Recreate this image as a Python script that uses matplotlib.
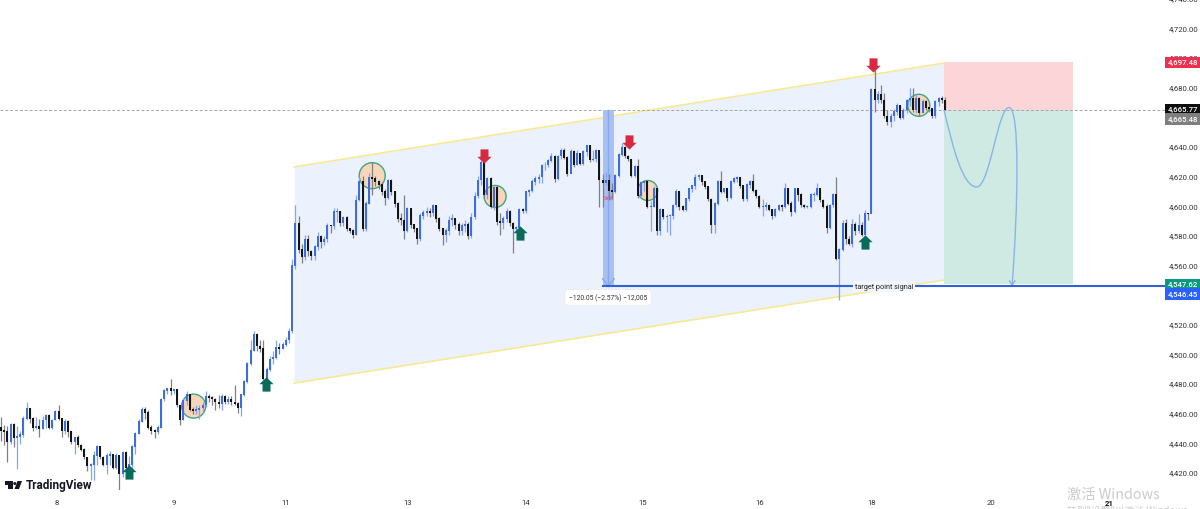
import matplotlib
matplotlib.use("Agg")
import matplotlib.pyplot as plt
from matplotlib.patches import Polygon, Rectangle, PathPatch
from matplotlib.path import Path
from matplotlib.transforms import ScaledTranslation

plt.rcParams['font.family'] = ['Roboto', 'DejaVu Sans']

# candle data, open of a bar is the close before it
first_open = 4451
closes = [
    4449, 4448, 4441, 4453, 4444, 4445, 4446, 4457, 4464, 4457,
    4451, 4452, 4450, 4456, 4459, 4451, 4456, 4462, 4457, 4449,
    4455, 4448, 4441, 4444, 4439, 4436, 4431, 4425, 4426, 4432,
    4438, 4431, 4426, 4432, 4433, 4424, 4432, 4420, 4434, 4424,
    4426, 4438, 4447, 4455, 4463, 4461, 4451, 4449, 4448, 4451,
    4470, 4476, 4477, 4476, 4476.5, 4466, 4456, 4469, 4473, 4463,
    4462, 4463, 4464, 4466, 4472, 4471, 4470, 4468, 4467, 4472,
    4468, 4470, 4468, 4467, 4464, 4473, 4482, 4494, 4503, 4514,
    4506, 4504, 4484, 4490, 4497, 4498, 4505, 4504, 4507, 4510,
    4516, 4560, 4589, 4571, 4566, 4578, 4570, 4567, 4573, 4580,
    4576, 4578, 4587.5, 4587, 4596.5, 4597, 4589, 4593, 4585, 4584,
    4581, 4604.5, 4617, 4585, 4602, 4620, 4619, 4617, 4615, 4610,
    4606, 4618, 4610, 4602, 4592, 4591, 4584, 4599, 4588, 4585,
    4578, 4594, 4596, 4597, 4595.5, 4601, 4592, 4585, 4581, 4584,
    4591, 4592, 4588, 4584, 4587, 4588, 4580, 4593, 4607, 4618,
    4630, 4608, 4619, 4600, 4613, 4590, 4589, 4592, 4597, 4589,
    4585, 4586, 4598, 4597, 4610, 4611, 4617, 4619, 4620, 4628,
    4628, 4631, 4634, 4619, 4634, 4638, 4633, 4622, 4637, 4628,
    4636, 4629, 4637, 4641, 4631.5, 4632, 4638, 4618, 4616, 4618,
    4611, 4610, 4621, 4635, 4640, 4634, 4632, 4621, 4627, 4607,
    4616, 4617, 4600, 4600, 4612, 4584, 4598, 4593, 4593.5, 4594,
    4601, 4610, 4600, 4598, 4605.6, 4612, 4614, 4620, 4621, 4617,
    4613.5, 4605, 4588, 4602, 4617, 4610, 4612, 4606, 4617, 4619,
    4620, 4614, 4605, 4615, 4617, 4611, 4607, 4600, 4600, 4601,
    4598, 4594, 4598, 4601, 4600, 4612, 4602, 4596.6, 4612, 4608,
    4601, 4600, 4600, 4608, 4608, 4612, 4604.5, 4600, 4586, 4601,
    4608, 4565, 4571, 4589, 4578, 4575, 4588, 4584, 4587, 4581,
    4595.5, 4595, 4679, 4672, 4676, 4672, 4661, 4657, 4661, 4664,
    4668, 4660, 4665, 4672, 4673, 4665, 4673, 4663, 4671, 4667,
    4666, 4661, 4671, 4673, 4672, 4665.5,
]
highs = [
    4458, 4453, 4452, 4454, 4454, 4452, 4449, 4459, 4468, 4464,
    4458, 4458, 4457, 4459, 4460, 4460, 4457, 4463, 4466, 4457,
    4457, 4456, 4449, 4445, 4446, 4440, 4437, 4431, 4427, 4435,
    4439, 4437, 4432, 4434, 4435, 4433, 4434, 4432, 4435, 4435,
    4432, 4439, 4448, 4457, 4465, 4465, 4463, 4453, 4450, 4453,
    4471, 4477, 4478, 4483.5, 4477, 4477, 4466, 4471, 4476, 4473,
    4465, 4466, 4466, 4468, 4476, 4474, 4472, 4471, 4473, 4474,
    4473, 4472, 4472, 4480, 4468, 4474, 4483, 4495, 4510, 4516,
    4515, 4510, 4510, 4492, 4499, 4503, 4510, 4508, 4509, 4512,
    4518, 4565, 4601, 4594, 4575, 4581, 4581, 4571, 4574, 4583,
    4581, 4580, 4589, 4588, 4599, 4599, 4597, 4594, 4594, 4586,
    4585, 4608, 4620, 4621, 4604, 4623, 4630, 4621, 4618, 4617,
    4612, 4619, 4619, 4611, 4603, 4596, 4608, 4600, 4598, 4588,
    4585, 4596, 4598, 4600, 4599, 4602, 4601, 4593, 4586, 4586,
    4594, 4595, 4592, 4590, 4589, 4591, 4590, 4596, 4610, 4621,
    4634, 4631, 4620, 4620, 4614, 4615, 4596, 4594, 4599, 4598,
    4590, 4587, 4599, 4599, 4611, 4612, 4619, 4621, 4622, 4629,
    4630, 4632, 4636, 4635, 4635, 4640, 4640, 4634, 4639, 4638,
    4638, 4633, 4638, 4642, 4642, 4638, 4639, 4635, 4622, 4623.6,
    4622, 4616, 4622, 4636, 4643, 4641, 4635, 4632, 4628, 4632,
    4617, 4618, 4618, 4604, 4614, 4611, 4599, 4596, 4595, 4595,
    4602, 4612, 4610, 4601, 4606, 4613, 4615, 4622, 4622, 4621,
    4617, 4614, 4606, 4603, 4618, 4624, 4613, 4612, 4618, 4620,
    4621, 4620, 4615, 4616, 4618, 4622, 4612, 4608, 4605, 4603,
    4602, 4598, 4599, 4602, 4602, 4616, 4613, 4604, 4613, 4612,
    4609, 4602, 4601, 4609, 4610, 4616, 4612, 4605, 4602, 4602,
    4609, 4620, 4572, 4591, 4592, 4580, 4592, 4590, 4595, 4590,
    4598, 4596, 4680, 4692, 4678, 4682, 4677, 4665, 4663, 4666,
    4670, 4668, 4667, 4673, 4680, 4680, 4676, 4674, 4673, 4672,
    4670, 4667, 4672, 4674, 4675, 4674,
]
lows = [
    4442, 4439, 4428, 4440, 4438, 4423, 4440, 4445, 4456, 4454,
    4449, 4450, 4445, 4450, 4451, 4450, 4450, 4456, 4456, 4445,
    4447, 4445, 4440, 4433, 4438, 4435, 4430, 4422, 4415.5, 4415.5,
    4426, 4430, 4425, 4420, 4426, 4423, 4423, 4408, 4418, 4423,
    4423, 4424, 4433, 4447, 4455, 4457, 4450, 4447, 4444, 4447,
    4451, 4469, 4474, 4473, 4474, 4465, 4453, 4456, 4466, 4462,
    4460, 4460, 4457, 4461, 4465, 4468, 4466, 4463, 4464, 4463,
    4467, 4467, 4466, 4466, 4461, 4459, 4472, 4481, 4493, 4503,
    4503, 4502, 4483, 4483, 4489, 4494, 4497, 4501, 4504, 4506,
    4508, 4515, 4558, 4569, 4562, 4564, 4567, 4564, 4564, 4571,
    4572, 4574, 4576, 4582, 4585, 4590, 4587, 4587, 4584, 4582,
    4579, 4581, 4604, 4584, 4584, 4602, 4608, 4614, 4612, 4608,
    4601, 4605, 4608, 4600, 4590, 4588, 4578, 4583, 4586, 4583,
    4575, 4577, 4592, 4594, 4593, 4594, 4590, 4584, 4574, 4576,
    4581, 4587, 4585, 4581, 4581, 4583, 4578, 4579, 4592, 4606,
    4615, 4606, 4605, 4599, 4598, 4588, 4581, 4585, 4590, 4587,
    4569, 4583, 4585, 4596, 4596, 4607, 4610, 4615, 4616, 4616,
    4625, 4627, 4630, 4617, 4618, 4632, 4632, 4621, 4628, 4627,
    4628, 4628, 4628, 4634, 4630, 4631, 4630, 4600, 4600, 4615,
    4604.5, 4605, 4609, 4620, 4634, 4633, 4631, 4620, 4620, 4606,
    4607, 4611, 4599, 4584, 4600, 4581, 4581, 4592, 4583, 4581,
    4592, 4600, 4598, 4597, 4597, 4604, 4610, 4612, 4618, 4615,
    4612, 4604, 4582, 4582, 4601, 4609, 4609, 4604, 4605, 4616,
    4617, 4613, 4604, 4604, 4613, 4610, 4606, 4599, 4594, 4598,
    4597, 4591.5, 4593, 4597, 4597, 4599, 4601, 4594, 4596, 4604,
    4600, 4599, 4599, 4599, 4604, 4607, 4603, 4599, 4582, 4585,
    4600, 4564, 4537, 4570, 4575, 4574, 4573, 4581, 4582, 4580,
    4580, 4591, 4597, 4664, 4670, 4670, 4660, 4655, 4654, 4658,
    4662, 4659, 4659, 4663, 4668, 4664, 4663, 4661, 4664, 4665,
    4664, 4660, 4660, 4668, 4670, 4665,
]
opens = [first_open] + closes[:-1]
bars = list(range(len(closes)))

price_ticks = [4420, 4440, 4460, 4480, 4500, 4520, 4560, 4580, 4600,
               4620, 4640, 4660, 4680, 4700, 4720, 4740]
day_bars = [17.5, 54, 89, 127.2, 164, 200.6, 237.2, 272, 309.4, 346.25]
day_labels = ['8', '9', '11', '13', '14', '15', '16', '18', '20', '21']

# drawings on the chart, in bars and prices
channel_bars = [91.6, 294.7]
channel_top = [4626.9, 4697]
channel_bottom = [4481, 4550.6]
box_bars = [294.7, 335]
stop_price = 4697.48
entry_price = 4665.3
target_price = 4547.62
line_price = 4546.45
line_start = 188
measure_bars = [188, 191.6]
measure_top = 4665.3
circle_bars = [60.2, 116, 154.4, 202.1, 286.8]
circle_prices = [4465.5, 4621, 4607, 4611, 4668.5]
circle_sizes = [12, 13, 11, 10, 11]
up_bars = [40, 82.7, 162.2, 270]
up_prices = [4421, 4480.5, 4582.5, 4576]
down_bars = [151, 196.2, 272.4]
down_prices = [4634.5, 4644, 4696]
curve_bars = [294.7, 297.5, 300.5, 304.9, 309, 311.5, 315, 318.5, 317.8, 316]
curve_prices = [4665.3, 4640, 4613.4, 4613.4, 4613.4, 4667, 4667, 4667, 4600, 4547.6]

BLUE = '#3d6de0'
BLACK = '#141414'

fig = plt.figure(figsize=(12, 5.1), dpi=100)
ax = fig.add_axes([0, 19 / 510, 1165 / 1200, 492 / 510])
ax.set_xlim(-0.3125, 363.75)
ax.set_ylim(4408.9, 4740.9)
for s in ax.spines.values():
    s.set_visible(False)

# channel and position box go under the candles
ax.fill_between(channel_bars, channel_bottom, channel_top, color='#ebf1fd', lw=0, zorder=1)
ax.plot(channel_bars, channel_top, color='#f7e98e', lw=1.1, zorder=2)
ax.plot(channel_bars, channel_bottom, color='#f7e98e', lw=1.1, zorder=2)
ax.add_patch(Rectangle((box_bars[0], entry_price), box_bars[1] - box_bars[0],
                       stop_price - entry_price, color='#fbd5d8', lw=0, zorder=1.5))
ax.add_patch(Rectangle((box_bars[0], target_price), box_bars[1] - box_bars[0],
                       entry_price - target_price, color='#cfeae3', lw=0, zorder=1.5))
ax.axhline(entry_price, color='#a5a5a5', lw=0.7, ls=(0, (3, 2)), zorder=2)

# measure band with its arrow
mid = sum(measure_bars) / 2
ax.add_patch(Rectangle((measure_bars[0], line_price), measure_bars[1] - measure_bars[0],
                       measure_top - line_price, color='#a9c0f3', lw=0, zorder=2))
ax.plot([mid, mid], [line_price, measure_top], color='#86a6ef', lw=1, zorder=2.1)
ax.plot([measure_bars[0], mid, measure_bars[1]], [line_price + 5, line_price, line_price + 5],
        color='#86a6ef', lw=1, zorder=2.1)

ax.scatter(circle_bars, circle_prices, s=[(2 * r * 0.72) ** 2 for r in circle_sizes],
           facecolor='#f8d6ba', edgecolor='#3fa585', lw=1, zorder=2.5)

# candles
up = [c >= o for o, c in zip(opens, closes)]
wick_colors = ['#86a5ef' if u else '#808080' for u in up]
body_colors = [BLUE if u else BLACK for u in up]
ax.vlines(bars, lows, highs, colors=wick_colors, lw=0.9, zorder=3)
ax.bar(bars, [abs(c - o) + 0.4 for o, c in zip(opens, closes)],
       bottom=[min(o, c) for o, c in zip(opens, closes)],
       width=0.62, color=body_colors, lw=0, zorder=3.2)

# arrows
up_arrow = [(-0.28, -0.5), (0.28, -0.5), (0.28, 0.02), (0.5, 0.02), (0, 0.5), (-0.5, 0.02), (-0.28, 0.02)]
down_arrow = [(x, -y) for x, y in up_arrow]
ax.scatter(up_bars, up_prices, marker=up_arrow, s=105, color='#0b6b5b', lw=0, zorder=4)
ax.scatter(down_bars, down_prices, marker=down_arrow, s=105, color='#d62a41', lw=0, zorder=4)

# projected path
curve = Path(list(zip(curve_bars, curve_prices)), [Path.MOVETO] + [Path.CURVE4] * 9)
ax.add_patch(PathPatch(curve, fill=False, edgecolor='#8db3e6', lw=1, zorder=4))
ax.plot([315.2, 316, 316.8], [4550, 4547, 4550], color='#8db3e6', lw=1, zorder=4)

# target line and labels
ax.plot([line_start, 363.75], [line_price, line_price], color='#2f62d8', lw=1.5, zorder=4)
ax.text(276, line_price, 'target point signal', fontsize=5.2, ha='center', va='center',
        color='#222222', zorder=5, bbox=dict(facecolor='#f3f6fd', edgecolor='none', pad=1.5))
ax.text(189.7, 4541.5, '\u2212120.05 (\u22122.57%) \u221212,005', fontsize=4.9, ha='center', va='top',
        color='#333333', zorder=5,
        bbox=dict(boxstyle='round,pad=0.6', facecolor='white', edgecolor='#ececec', lw=0.6))
ax.text(189.7, 4606, 'Sell!', fontsize=3.5, ha='center', va='center', color='#e0405e', zorder=5)

# axes
ax.yaxis.tick_right()
ax.set_yticks(price_ticks)
ax.set_yticklabels([f'{p:,.2f}' for p in price_ticks])
ax.set_xticks(day_bars)
ax.set_xticklabels(day_labels)
ax.tick_params(axis='y', length=0, pad=3, labelsize=5.6, labelcolor='#333333')
ax.tick_params(axis='x', length=0, pad=6.5, labelsize=5.6, labelcolor='#333333')
for label in ax.get_yticklabels():
    label.set_transform(label.get_transform() + ScaledTranslation(0, 1.5 / 100, fig.dpi_scale_trans))
last_day = ax.get_xticklabels()[-1]
last_day.set_fontweight('bold')
last_day.set_color('#111111')

# price tags on the right
tags = [(4697.48, '4,697.48', '#ee2f4d', 0),
        (4665.77, '4,665.77', '#0c0c0c', 0),
        (4665.48, '4,665.48', '#7f7f7f', -9),
        (4547.62, '4,547.62', '#089981', 0),
        (4546.45, '4,546.45', '#2962ff', -8)]
for price, label, bg, shift in tags:
    ax.annotate(label, xy=(1, price), xycoords=ax.get_yaxis_transform(),
                xytext=(3, shift), textcoords='offset pixels', va='center', ha='left',
                fontsize=5.6, fontweight='medium', color='white', zorder=6, annotation_clip=False,
                bbox=dict(boxstyle='square,pad=0.35', facecolor=bg, edgecolor='none'))

# logo
def px(x, y):
    return (x / 1200, 1 - y / 510)

logo = [
    [(5, 482), (12.7, 482), (12.7, 490), (8.3, 490), (8.3, 485.5), (5, 485.5)],
    [(17.5, 482), (22, 482), (19, 490), (14.5, 490)],
]
for pts in logo:
    fig.add_artist(Polygon([px(*p) for p in pts], closed=True, color='#131722', lw=0,
                           transform=fig.transFigure))
fig.text(*px(14.8, 484), '\u25cf', fontsize=3, color='#131722', ha='center', va='center')
fig.text(*px(26, 486), 'TradingView', fontsize=8.5, fontweight='bold', color='#131722',
         ha='left', va='center')

# windows watermark
cjk = ['Noto Sans CJK SC', 'DejaVu Sans']
fig.text(*px(1067, 495), '激活 Windows', fontsize=10.3, color='#cccccc', family=cjk,
         ha='left', va='center')
fig.text(*px(1067, 511), '转到"设置"以激活 Windows。', fontsize=7, color='#cccccc', family=cjk,
         ha='left', va='center')

fig.savefig('out.png', dpi=100)
